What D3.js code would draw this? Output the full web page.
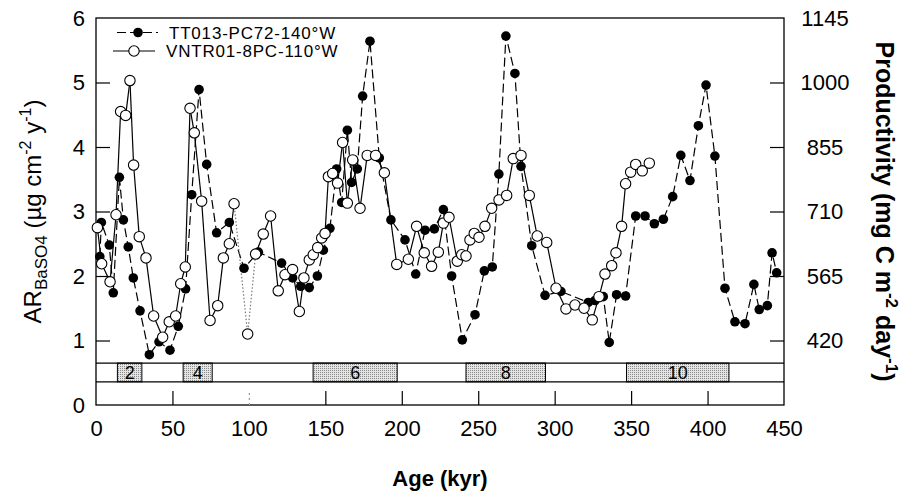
<!DOCTYPE html>
<html>
<head>
<meta charset="utf-8">
<script src="https://cdn.jsdelivr.net/npm/d3@7"></script>
<style>
  body { margin: 0; background: #fff; }
  svg { display: block; font-family: "Liberation Sans", Arial, sans-serif; }
</style>
</head>
<body>
<svg id="chart" width="901" height="495"></svg>
<script>
// TT013-PC72-140W (filled, dashed) : [age kyr, AR BaSO4]
var tt013 = [
  [2.5, 2.30], [3.5, 2.83], [8.7, 2.48], [11.3, 1.74], [15.3, 3.53], [17.9, 2.87], [21.1, 2.45],
  [24.4, 1.97], [28.8, 1.46], [34.9, 0.78], [41.2, 0.98], [48.4, 0.85], [53.8, 1.22], [58.6, 1.80],
  [62.6, 3.26], [67.4, 4.89], [72.4, 3.73], [78.9, 2.67], [87.2, 2.83], [96.8, 2.12], [106.2, 2.37],
  [121.4, 2.20], [128.6, 1.97], [133.9, 1.84], [139.5, 1.82], [144.8, 2.00], [148.7, 2.40], [153.0, 2.74],
  [157.4, 3.66], [160.7, 3.14], [164.4, 4.26], [167.2, 3.45], [170.9, 3.66], [174.4, 4.79], [179.2, 5.64],
  [185.3, 3.83], [192.9, 2.87], [202.1, 2.56], [209.1, 2.03], [215.2, 2.71], [221.3, 2.73], [227.2, 3.03],
  [232.6, 2.00], [239.6, 1.01], [247.9, 1.40], [254.0, 2.08], [259.2, 2.14], [263.5, 3.58], [268.1, 5.72],
  [274.0, 5.14], [278.0, 3.70], [285.0, 2.47], [293.7, 1.70], [304.1, 1.76], [322.0, 1.59], [326.4, 1.62],
  [331.8, 1.68], [335.7, 0.97], [340.5, 1.71], [346.4, 1.69], [353.0, 2.93], [359.1, 2.93], [365.2, 2.81],
  [371.1, 2.88], [377.2, 3.23], [382.5, 3.87], [388.5, 3.48], [394.0, 4.33], [399.0, 4.96], [404.8, 3.86],
  [411.4, 1.81], [417.9, 1.29], [424.5, 1.26], [430.3, 1.87], [433.8, 1.48], [439.1, 1.54], [442.2, 2.36],
  [445.2, 2.05]
];

// VNTR01-8PC-110W (open, solid)
var vntr01 = [
  [0.9, 2.75], [3.7, 2.19], [9.2, 1.91], [13.1, 2.95], [16.1, 4.55], [19.4, 4.49], [22.2, 5.03],
  [24.6, 3.72], [28.3, 2.61], [32.7, 2.28], [37.7, 1.38], [43.6, 1.05], [47.9, 1.29], [52.1, 1.38],
  [55.4, 1.88], [58.4, 2.14], [61.5, 4.60], [64.3, 4.22], [69.1, 3.16], [74.6, 1.31], [79.6, 1.54],
  [83.3, 2.28], [87.2, 2.50], [90.3, 3.12], [99.2, 1.10], [104.4, 2.34], [109.4, 2.65], [114.2, 2.93],
  [119.2, 1.77], [123.6, 2.02], [128.6, 2.10], [133.0, 1.45], [136.0, 1.97], [139.5, 2.25], [142.1, 2.33],
  [145.0, 2.44], [147.6, 2.59], [149.8, 2.66], [152.0, 3.54], [154.8, 3.59], [158.0, 3.44], [161.3, 4.07],
  [164.4, 3.13], [167.9, 3.80], [172.7, 3.05], [177.4, 3.87], [182.9, 3.87], [188.6, 3.60], [196.7, 2.18],
  [204.3, 2.26], [209.7, 2.77], [214.7, 2.36], [219.5, 2.15], [223.9, 2.37], [227.2, 2.82], [230.9, 2.91],
  [236.3, 2.23], [239.2, 2.33], [242.0, 2.31], [244.6, 2.56], [247.4, 2.66], [250.5, 2.60], [254.4, 2.77],
  [258.8, 3.05], [263.6, 3.18], [268.6, 3.25], [272.9, 3.82], [278.0, 3.87], [283.4, 3.25], [288.6, 2.62],
  [294.8, 2.52], [300.9, 1.81], [307.4, 1.49], [313.3, 1.55], [319.2, 1.50], [324.6, 1.32], [329.0, 1.68],
  [332.9, 2.03], [337.3, 2.16], [340.1, 2.36], [343.8, 2.77], [346.4, 3.43], [349.7, 3.61], [353.0, 3.73],
  [357.3, 3.63], [361.9, 3.75]
];
var vntrFaintAge = 99.2; // segments to/from this sample are dotted

// marine isotope stages (glacial) [start, end, label]
var stages = [[14, 30, '2'], [57, 76, '4'], [142, 197, '6'], [242, 294, '8'], [347, 414, '10']];

var xTicks = [0, 50, 100, 150, 200, 250, 300, 350, 400, 450],
    yTicks = [0, 1, 2, 3, 4, 5, 6],
    prodTicks = [420, 565, 710, 855, 1000, 1145];

var svg = d3.select('#chart'),
    pLeft = 96, pRight = 784, pTop = 18, pBottom = 405,
    tickLen = 14;

var x = d3.scaleLinear().domain([0, 450]).range([pLeft, pRight]),
    y = d3.scaleLinear().domain([0, 6]).range([pBottom, pTop]),
    yProd = d3.scaleLinear().domain([275, 1145]).range([pBottom, pTop]);

var bandTop = y(0.65),
    bandMid = y(0.36);

// stipple pattern for stages
var pat = svg.append('defs').append('pattern')
    .attr('id', 'stip')
    .attr('width', 2).attr('height', 2)
    .attr('patternUnits', 'userSpaceOnUse');
pat.append('rect').attr('width', 2).attr('height', 2).attr('fill', '#e4e4e4');
pat.append('rect').attr('width', 1).attr('height', 1).attr('fill', '#8a8a8a');

// stage bands
svg.selectAll('.stage')
    .data(stages)
    .enter().append('rect')
    .attr('class', 'stage')
    .attr('x', d => x(d[0]))
    .attr('width', d => x(d[1]) - x(d[0]))
    .attr('y', bandTop)
    .attr('height', bandMid - bandTop)
    .attr('fill', 'url(#stip)')
    .attr('stroke', '#000')
    .attr('stroke-width', 1);

svg.selectAll('.stageLabel')
    .data(stages)
    .enter().append('text')
    .attr('x', d => x((d[0] + d[1]) / 2))
    .attr('y', (bandTop + bandMid) / 2 + 6.5)
    .attr('text-anchor', 'middle')
    .style('font-size', '18px')
    .text(d => d[2]);

[bandTop, bandMid].forEach(function(yy) {
    svg.append('line')
        .attr('x1', pLeft).attr('x2', pRight)
        .attr('y1', yy).attr('y2', yy)
        .attr('stroke', '#000').attr('stroke-width', 1.2);
});

// frame
svg.append('rect')
    .attr('x', pLeft).attr('y', pTop)
    .attr('width', pRight - pLeft).attr('height', pBottom - pTop)
    .attr('fill', 'none').attr('stroke', '#000').attr('stroke-width', 1.3);

// axes
var fmt = d3.format('d');

var gx = svg.append('g')
    .attr('transform', `translate(0,${pBottom})`)
    .call(d3.axisBottom(x).tickValues(xTicks).tickFormat(fmt)
        .tickSizeInner(-tickLen).tickSizeOuter(0).tickPadding(15));

var gy = svg.append('g')
    .attr('transform', `translate(${pLeft},0)`)
    .call(d3.axisLeft(y).tickValues(yTicks).tickFormat(fmt)
        .tickSizeInner(-tickLen).tickSizeOuter(0).tickPadding(11));

var gr = svg.append('g')
    .attr('transform', `translate(${pRight},0)`)
    .call(d3.axisRight(yProd).tickValues(prodTicks).tickFormat(fmt)
        .tickSizeInner(-tickLen).tickSizeOuter(0).tickPadding(41));

[gx, gy, gr].forEach(function(g) {
    g.select('.domain').remove();
    g.selectAll('text').style('font-size', '22px').attr('fill', '#000');
    g.selectAll('line').attr('stroke', '#000').attr('stroke-width', 1.2);
});
gr.selectAll('text').attr('text-anchor', 'middle');

gx.selectAll('.tick').filter(d => d == 0 || d == 450).select('line').remove();
gx.selectAll('.tick').filter(d => d == 100).select('line')
    .attr('stroke', '#999').attr('stroke-dasharray', '2,3');
gy.selectAll('.tick').filter(d => d == 0 || d == 6).select('line').remove();
gr.selectAll('.tick').filter(d => d == 1145).select('line').remove();

// series
var line = d3.line().x(d => x(d[0])).y(d => y(d[1]));

svg.append('path')
    .datum(tt013)
    .attr('d', line)
    .attr('fill', 'none')
    .attr('stroke', '#000')
    .attr('stroke-width', 1.2)
    .attr('stroke-dasharray', '9,4');

var pairs = d3.pairs(vntr01);
svg.selectAll('.vseg')
    .data(pairs)
    .enter().append('path')
    .attr('d', d => line(d))
    .attr('fill', 'none')
    .attr('stroke', d => (d[0][0] == vntrFaintAge || d[1][0] == vntrFaintAge) ? '#777' : '#000')
    .attr('stroke-width', 1.2)
    .attr('stroke-dasharray', d => (d[0][0] == vntrFaintAge || d[1][0] == vntrFaintAge) ? '1.5,2' : null);

svg.selectAll('.ttdot')
    .data(tt013)
    .enter().append('circle')
    .attr('cx', d => x(d[0]))
    .attr('cy', d => y(d[1]))
    .attr('r', 4.8)
    .attr('fill', '#000');

svg.selectAll('.vdot')
    .data(vntr01)
    .enter().append('circle')
    .attr('cx', d => x(d[0]))
    .attr('cy', d => y(d[1]))
    .attr('r', 5.2)
    .attr('fill', '#fff')
    .attr('stroke', '#000')
    .attr('stroke-width', 1.1);

// legend
var lg = svg.append('g');
lg.append('line').attr('x1', 117).attr('x2', 158).attr('y1', 32.5).attr('y2', 32.5)
    .attr('stroke', '#000').attr('stroke-width', 1.2).attr('stroke-dasharray', '9,4');
lg.append('circle').attr('cx', 138).attr('cy', 32.5).attr('r', 4.8).attr('fill', '#000');
lg.append('line').attr('x1', 113).attr('x2', 155).attr('y1', 51).attr('y2', 51)
    .attr('stroke', '#000').attr('stroke-width', 1.2);
lg.append('circle').attr('cx', 134).attr('cy', 51).attr('r', 5.2)
    .attr('fill', '#fff').attr('stroke', '#000').attr('stroke-width', 1.1);
lg.append('text').attr('x', 169).attr('y', 38.5).style('font-size', '17px')
    .style('letter-spacing', '0.8px').text('TT013-PC72-140°W');
lg.append('text').attr('x', 166).attr('y', 57).style('font-size', '17px')
    .style('letter-spacing', '0.8px').text('VNTR01-8PC-110°W');

// axis titles
svg.append('text')
    .attr('x', (pLeft + pRight) / 2)
    .attr('y', 486)
    .attr('text-anchor', 'middle')
    .style('font-size', '22px')
    .style('font-weight', 'bold')
    .text('Age (kyr)');

var yl = svg.append('text')
    .attr('transform', `translate(41,${(pTop + pBottom) / 2}) rotate(-90)`)
    .attr('text-anchor', 'middle')
    .style('font-size', '24px');
yl.append('tspan').text('AR');
yl.append('tspan').attr('dy', 6).style('font-size', '17px').text('BaSO4');
yl.append('tspan').attr('dy', -6).text(' (µg cm');
yl.append('tspan').attr('dy', -10).style('font-size', '16px').text('-2');
yl.append('tspan').attr('dy', 10).text(' y');
yl.append('tspan').attr('dy', -10).style('font-size', '16px').text('-1');
yl.append('tspan').attr('dy', 10).text(')');

var yr = svg.append('text')
    .attr('transform', `translate(876,${(pTop + pBottom) / 2}) rotate(90)`)
    .attr('text-anchor', 'middle')
    .style('font-size', '25px')
    .style('font-weight', 'bold');
yr.append('tspan').text('Productivity (mg C m');
yr.append('tspan').attr('dy', -10).style('font-size', '17px').text('-2');
yr.append('tspan').attr('dy', 10).text(' day');
yr.append('tspan').attr('dy', -10).style('font-size', '17px').text('-1');
yr.append('tspan').attr('dy', 10).text(')');
</script>
</body>
</html>
